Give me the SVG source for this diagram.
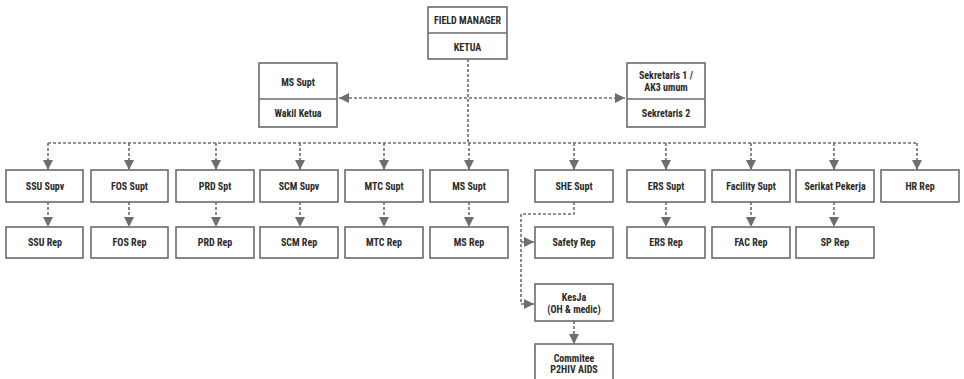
<svg xmlns="http://www.w3.org/2000/svg" width="964" height="379" viewBox="0 0 964 379">
<defs>
<style>
.box{fill:#fff;stroke:#6b6b6b;stroke-width:1.6}
.div{stroke:#6b6b6b;stroke-width:1.6}
text{font-family:"Liberation Sans Narrow","Roboto Condensed","DejaVu Sans Condensed","Liberation Sans",sans-serif;font-size:10px;font-weight:bold;fill:#2a2a2a;text-anchor:middle;dominant-baseline:central}
.c{fill:none;stroke:#6e6e6e;stroke-width:1.6;stroke-dasharray:3 2}
</style>
<marker id="ah" viewBox="0 0 10 10" refX="10" refY="5" markerWidth="10" markerHeight="10" markerUnits="userSpaceOnUse" orient="auto-start-reverse">
<path d="M0,0 L10,5 L0,10 z" fill="#6e6e6e"/>
</marker>
</defs>
<rect width="964" height="379" fill="#fff"/>

<g id="connectors">
<path class="c" d="M468,59 V143"/>
<path class="c" d="M339,98 H625" marker-start="url(#ah)" marker-end="url(#ah)"/>
<path class="c" d="M48,143 H917"/>
<path class="c" d="M48,143 V170" marker-end="url(#ah)"/>
<path class="c" d="M129,143 V170" marker-end="url(#ah)"/>
<path class="c" d="M216,143 V170" marker-end="url(#ah)"/>
<path class="c" d="M300,143 V170" marker-end="url(#ah)"/>
<path class="c" d="M384,143 V170" marker-end="url(#ah)"/>
<path class="c" d="M469,143 V170" marker-end="url(#ah)"/>
<path class="c" d="M574,143 V170" marker-end="url(#ah)"/>
<path class="c" d="M666,143 V170" marker-end="url(#ah)"/>
<path class="c" d="M751,143 V170" marker-end="url(#ah)"/>
<path class="c" d="M834,143 V170" marker-end="url(#ah)"/>
<path class="c" d="M917,143 V170" marker-end="url(#ah)"/>
<path class="c" d="M48,202 V227" marker-end="url(#ah)"/>
<path class="c" d="M129,202 V227" marker-end="url(#ah)"/>
<path class="c" d="M216,202 V227" marker-end="url(#ah)"/>
<path class="c" d="M300,202 V227" marker-end="url(#ah)"/>
<path class="c" d="M384,202 V227" marker-end="url(#ah)"/>
<path class="c" d="M469,202 V227" marker-end="url(#ah)"/>
<path class="c" d="M666,202 V227" marker-end="url(#ah)"/>
<path class="c" d="M751,202 V227" marker-end="url(#ah)"/>
<path class="c" d="M834,202 V227" marker-end="url(#ah)"/>
<path class="c" d="M574,202 V214 H521 V304 H534" marker-end="url(#ah)"/>
<path class="c" d="M521,242 H534" marker-end="url(#ah)"/>
<path class="c" d="M574,321 V344" marker-end="url(#ah)"/>
</g>

<g id="field-manager">
<rect class="box" x="428" y="7" width="79" height="52"/>
<line class="div" x1="428" y1="33" x2="507" y2="33"/>
<text x="467.5" y="20">FIELD MANAGER</text>
<text x="467.5" y="47">KETUA</text>
</g>
<g id="ms-supt-wakil">
<rect class="box" x="259" y="63" width="78" height="64"/>
<line class="div" x1="259" y1="99" x2="337" y2="99"/>
<text x="298" y="82">MS Supt</text>
<text x="298" y="113">Wakil Ketua</text>
</g>
<g id="sekretaris">
<rect class="box" x="627" y="63" width="78" height="64"/>
<line class="div" x1="627" y1="99" x2="705" y2="99"/>
<text x="666" y="75">Sekretaris 1 /</text>
<text x="666" y="87">AK3 umum</text>
<text x="666" y="113">Sekretaris 2</text>
</g>

<g id="ssu-supv"><rect class="box" x="6" y="170" width="77" height="32"/><text x="45" y="186">SSU Supv</text></g>
<g id="fos-supt"><rect class="box" x="91" y="170" width="77" height="32"/><text x="129.5" y="186">FOS Supt</text></g>
<g id="prd-spt"><rect class="box" x="176" y="170" width="78" height="32"/><text x="215" y="186">PRD Spt</text></g>
<g id="scm-supv"><rect class="box" x="260" y="170" width="78" height="32"/><text x="299" y="186">SCM Supv</text></g>
<g id="mtc-supt"><rect class="box" x="345" y="170" width="78" height="32"/><text x="384" y="186">MTC Supt</text></g>
<g id="ms-supt"><rect class="box" x="430" y="170" width="78" height="32"/><text x="469" y="186">MS Supt</text></g>
<g id="she-supt"><rect class="box" x="535" y="170" width="78" height="32"/><text x="574" y="186">SHE Supt</text></g>
<g id="ers-supt"><rect class="box" x="627" y="170" width="78" height="32"/><text x="666" y="186">ERS Supt</text></g>
<g id="facility-supt"><rect class="box" x="712" y="170" width="78" height="32"/><text x="751" y="186">Facility Supt</text></g>
<g id="serikat-pekerja"><rect class="box" x="796" y="170" width="78" height="32"/><text x="835" y="186">Serikat Pekerja</text></g>
<g id="hr-rep"><rect class="box" x="881" y="170" width="78" height="32"/><text x="920" y="186">HR Rep</text></g>

<g id="ssu-rep"><rect class="box" x="6" y="227" width="77" height="31"/><text x="45" y="242">SSU Rep</text></g>
<g id="fos-rep"><rect class="box" x="91" y="227" width="77" height="31"/><text x="129.5" y="242">FOS Rep</text></g>
<g id="prd-rep"><rect class="box" x="176" y="227" width="78" height="31"/><text x="215" y="242">PRD Rep</text></g>
<g id="scm-rep"><rect class="box" x="260" y="227" width="78" height="31"/><text x="299" y="242">SCM Rep</text></g>
<g id="mtc-rep"><rect class="box" x="345" y="227" width="78" height="31"/><text x="384" y="242">MTC Rep</text></g>
<g id="ms-rep"><rect class="box" x="430" y="227" width="78" height="31"/><text x="469" y="242">MS Rep</text></g>
<g id="safety-rep"><rect class="box" x="535" y="227" width="78" height="31"/><text x="574" y="242">Safety Rep</text></g>
<g id="ers-rep"><rect class="box" x="627" y="227" width="78" height="31"/><text x="666" y="242">ERS Rep</text></g>
<g id="fac-rep"><rect class="box" x="712" y="227" width="78" height="31"/><text x="751" y="242">FAC Rep</text></g>
<g id="sp-rep"><rect class="box" x="796" y="227" width="78" height="31"/><text x="835" y="242">SP Rep</text></g>

<g id="kesja"><rect class="box" x="535" y="284" width="78" height="37"/><text x="574" y="297">KesJa</text><text x="574" y="309">(OH &amp; medic)</text></g>
<g id="commitee"><rect class="box" x="535" y="344" width="78" height="40"/><text x="574" y="358">Commitee</text><text x="574" y="369">P2HIV AIDS</text></g>
</svg>
